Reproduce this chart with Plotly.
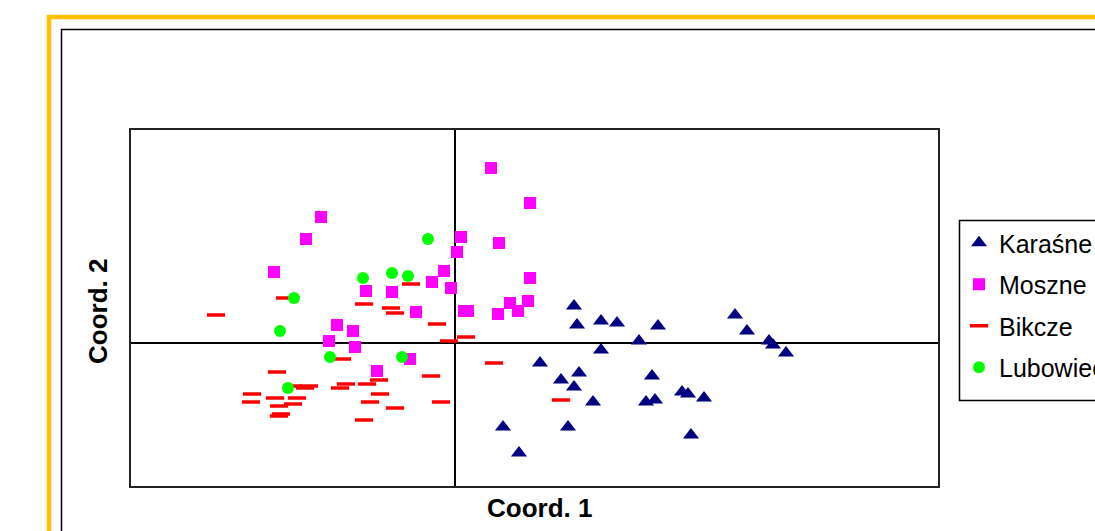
import plotly.graph_objects as go

# ---- data (Coord. 1, Coord. 2) ----
karasne_x = [1.19, 1.22, 1.46, 1.62, 2.03, 1.84, 1.46, 2.80, 2.92, 3.14, 3.18, 3.31, 0.85, 1.06,
             1.24, 1.19, 1.38, 1.97, 1.91, 2.00, 2.27, 2.33, 2.49, 2.36, 0.48, 1.13, 0.64]
karasne_y = [0.37, 0.18, 0.22, 0.20, 0.17, 0.02, -0.07, 0.28, 0.12, 0.02, -0.02, -0.10, -0.20, -0.37,
             -0.30, -0.44, -0.59, -0.33, -0.59, -0.57, -0.49, -0.51, -0.55, -0.92, -0.84, -0.84, -1.10]

moszne_x = [-1.34, -1.49, -1.81, -0.89, -0.63, -0.23, -0.11, -0.04, 0.02, 0.06, 0.36, 0.75, 0.44, 0.75,
            0.09, 0.13, 0.43, 0.55, 0.63, 0.73, -0.39, -1.18, -1.02, -1.26, -1.00, -0.45, -0.78]
moszne_y = [1.26, 1.04, 0.71, 0.52, 0.51, 0.61, 0.72, 0.55, 0.91, 1.06, 1.75, 1.40, 1.00, 0.65,
            0.32, 0.32, 0.29, 0.40, 0.32, 0.42, 0.31, 0.18, 0.12, 0.02, -0.04, -0.16, -0.28]

bikcze_x = [-2.39, -1.70, -0.44, -0.91, -0.64, -0.60, -0.18, -0.06, 0.11, -1.13, -1.78, -0.76, -0.24,
            -1.62, -1.46, -1.50, -1.09, -1.15, -0.88, -2.03, -2.04, -1.80, -1.58, -1.76, -1.62, -1.74,
            -1.76, -0.75, -0.85, -0.60, -0.14, -0.91, 0.39, 1.06]
bikcze_y = [0.28, 0.45, 0.59, 0.39, 0.35, 0.30, 0.19, 0.02, 0.06, -0.16, -0.29, -0.37, -0.33,
            -0.43, -0.43, -0.45, -0.41, -0.45, -0.41, -0.51, -0.59, -0.55, -0.55, -0.63, -0.61, -0.71,
            -0.73, -0.51, -0.59, -0.65, -0.59, -0.77, -0.20, -0.57]

lubowiec_x = [-0.27, -0.92, -0.63, -0.47, -1.61, -1.75, -1.25, -0.53, -1.67]
lubowiec_y = [1.04, 0.65, 0.70, 0.67, 0.45, 0.12, -0.14, -0.14, -0.45]

series_names = ["Karaśne", "Moszne", "Bikcze", "Lubowiec"]
x_range = [-3.24, 4.83]
y_range = [-1.43, 2.13]

FONT = "Arial, Liberation Sans, sans-serif"

fig = go.Figure()
fig.add_trace(go.Scatter(x=karasne_x, y=karasne_y, mode="markers", name=series_names[0],
                         legendgroup="a",
                         marker=dict(symbol="triangle-up", size=14, color="#000080",
                                     line=dict(width=0))))
fig.add_trace(go.Scatter(x=moszne_x, y=moszne_y, mode="markers", name=series_names[1],
                         legendgroup="b",
                         marker=dict(symbol="square", size=12, color="#FF00FF",
                                     line=dict(width=0))))
fig.add_trace(go.Scatter(x=bikcze_x, y=bikcze_y, mode="markers", name=series_names[2],
                         legendgroup="c",
                         marker=dict(symbol="line-ew", size=13, color="#FF0000",
                                     line=dict(width=3.5, color="#FF0000"))))
fig.add_trace(go.Scatter(x=lubowiec_x, y=lubowiec_y, mode="markers", name=series_names[3],
                         legendgroup="d",
                         marker=dict(symbol="circle", size=12, color="#00FF00",
                                     line=dict(width=0))))

W, H = 1095, 531
L, R, T, B = 131, 938, 130, 486          # plot box in window pixels
pw, ph = R - L, B - T


def px_x(p):
    return (p - L) / pw


def px_y(p):
    return (B - p) / ph


axis_common = dict(showgrid=False, showticklabels=False, ticks="", zeroline=True,
                   zerolinecolor="#000000", zerolinewidth=2, showline=True, mirror=True,
                   linecolor="#222222", linewidth=2, fixedrange=True)

fig.update_layout(
    width=W, height=H,
    margin=dict(l=L, r=W - R, t=T, b=H - B, pad=0, autoexpand=False),
    paper_bgcolor="white", plot_bgcolor="white",
    font=dict(family=FONT, color="#000000"),
    xaxis=dict(range=x_range, **axis_common),
    yaxis=dict(range=y_range, **axis_common),
    showlegend=True,
    legend=dict(x=px_x(959), y=px_y(220), xanchor="left", yanchor="top",
                font=dict(size=25, family=FONT),
                borderwidth=0, bgcolor="rgba(0,0,0,0)",
                tracegroupgap=6, itemsizing="trace"),
    annotations=[
        dict(text="<b>Coord. 1</b>", xref="paper", yref="paper", x=px_x(539), y=px_y(508),
             xanchor="center", yanchor="middle", showarrow=False,
             font=dict(size=26, family=FONT)),
        dict(text="<b>Coord. 2</b>", xref="paper", yref="paper", x=px_x(98), y=px_y(312),
             xanchor="center", yanchor="middle", showarrow=False, textangle=-90,
             font=dict(size=26, family=FONT)),
    ],
    shapes=[
        dict(type="rect", xref="paper", yref="paper", x0=px_x(49), y0=px_y(800),
             x1=px_x(1400), y1=px_y(17), line=dict(color="#FFC000", width=4.5), layer="below"),
        dict(type="rect", xref="paper", yref="paper", x0=px_x(61.5), y0=px_y(800),
             x1=px_x(1400), y1=px_y(29.5), line=dict(color="#000000", width=1.5), layer="below"),
        dict(type="rect", xref="paper", yref="paper", x0=px_x(959.5), y0=px_y(400.5),
             x1=px_x(1400), y1=px_y(220.5), line=dict(color="#000000", width=1.5), layer="below"),
    ],
)

fig.write_html("out.html", config={"displayModeBar": False},
               post_script="document.body.style.margin='0';document.body.style.overflow='hidden';")
